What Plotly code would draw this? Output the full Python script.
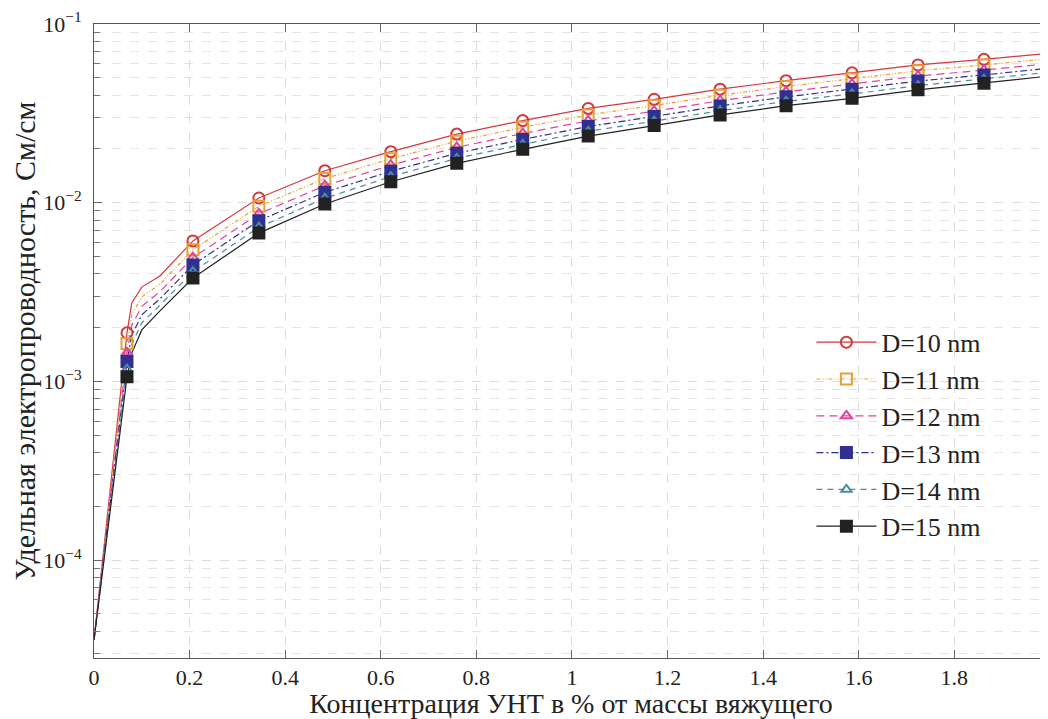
import plotly.graph_objects as go

# concentration (% of binder mass) - line points
conc = [0, 0.069, 0.079, 0.1, 0.138, 0.207, 0.345, 0.483, 0.621, 0.759, 0.897,
        1.034, 1.172, 1.310, 1.448, 1.586, 1.724, 1.862, 2.0]
# indices of conc where markers are drawn
marker_idx = [1, 5, 6, 7, 8, 9, 10, 11, 12, 13, 14, 15, 16, 17, 18]

d10 = [3.57e-5, 1.87e-3, 2.75e-3, 3.37e-3, 3.89e-3, 6.11e-3, 1.062e-2, 1.51e-2, 1.93e-2, 2.42e-2,
       2.88e-2, 3.37e-2, 3.79e-2, 4.32e-2, 4.82e-2, 5.33e-2, 5.90e-2, 6.34e-2, 6.86e-2]
d11 = [3.57e-5, 1.63e-3, 2.36e-3, 2.97e-3, 3.50e-3, 5.46e-3, 9.55e-3, 1.365e-2, 1.76e-2, 2.21e-2,
       2.64e-2, 3.10e-2, 3.50e-2, 3.99e-2, 4.47e-2, 4.93e-2, 5.47e-2, 5.90e-2, 6.40e-2]
d12 = [3.57e-5, 1.445e-3, 2.06e-3, 2.63e-3, 3.18e-3, 4.93e-3, 8.67e-3, 1.245e-2, 1.62e-2, 2.04e-2,
       2.44e-2, 2.87e-2, 3.25e-2, 3.72e-2, 4.17e-2, 4.60e-2, 5.11e-2, 5.52e-2, 6.01e-2]
d13 = [3.57e-5, 1.29e-3, 1.81e-3, 2.36e-3, 2.90e-3, 4.48e-3, 7.93e-3, 1.143e-2, 1.50e-2, 1.89e-2,
       2.26e-2, 2.67e-2, 3.04e-2, 3.48e-2, 3.91e-2, 4.31e-2, 4.79e-2, 5.19e-2, 5.66e-2]
d14 = [3.57e-5, 1.17e-3, 1.61e-3, 2.13e-3, 2.67e-3, 4.11e-3, 7.29e-3, 1.059e-2, 1.40e-2, 1.77e-2,
       2.12e-2, 2.51e-2, 2.86e-2, 3.27e-2, 3.69e-2, 4.06e-2, 4.52e-2, 4.91e-2, 5.38e-2]
d15 = [3.57e-5, 1.06e-3, 1.44e-3, 1.94e-3, 2.48e-3, 3.79e-3, 6.76e-3, 9.84e-3, 1.31e-2, 1.66e-2,
       1.99e-2, 2.36e-2, 2.70e-2, 3.10e-2, 3.49e-2, 3.84e-2, 4.28e-2, 4.66e-2, 5.12e-2]

names = ["D=10 nm", "D=11 nm", "D=12 nm", "D=13 nm", "D=14 nm", "D=15 nm"]
series = [d10, d11, d12, d13, d14, d15]

x_ticks = [0, 0.2, 0.4, 0.6, 0.8, 1, 1.2, 1.4, 1.6, 1.8, 2]
y_ticks = [1e-4, 1e-3, 1e-2, 1e-1]
y_ticktext = ["10<sup>−4</sup>", "10<sup>−3</sup>", "10<sup>−2</sup>", "10<sup>−1</sup>"]

colors = ["#d2383e", "#e8a033", "#e0449e", "#2e3190", "#4f8c9a", "#222222"]
dashes = ["solid", "4px,2px,1px,2px,1px,2px", "8px,5px", "7px,3px,2px,3px", "6px,5px", "solid"]
symbols = ["circle-open", "square-open", "triangle-up-open", "square", "triangle-up-open", "square"]
msizes = [11, 11, 10, 11, 9, 11]

fig = go.Figure()
for name, ys, c, dsh, sym, ms in zip(names, series, colors, dashes, symbols, msizes):
    fig.add_trace(go.Scatter(x=conc, y=ys, mode="lines", line=dict(color=c, width=1.2, dash=dsh),
                             showlegend=False, hoverinfo="skip"))
for name, ys, c, dsh, sym, ms in zip(names, series, colors, dashes, symbols, msizes):
    fig.add_trace(go.Scatter(x=[conc[i] for i in marker_idx], y=[ys[i] for i in marker_idx],
                             mode="markers", showlegend=False,
                             marker=dict(symbol=sym, size=ms, color=c, line=dict(color=c, width=2))))
for name, ys, c, dsh, sym, ms in zip(names, series, colors, dashes, symbols, msizes):
    fig.add_trace(go.Scatter(x=[None], y=[None], mode="lines+markers", name=name,
                             line=dict(color=c, width=1.2, dash=dsh),
                             marker=dict(symbol=sym, size=ms, color=c, line=dict(color=c, width=2))))

minor_vals = []
for e in [1e-5, 1e-4, 1e-3, 1e-2]:
    for k in range(2, 10):
        minor_vals.append(k * e)

font_family = "Liberation Serif"
fig.update_layout(
    width=1040, height=711,
    margin=dict(l=86, r=0, t=16, b=61, autoexpand=False),
    paper_bgcolor="white", plot_bgcolor="white",
    font=dict(family=font_family, size=20, color="#222"),
    legend=dict(x=0.752, y=0.535, xanchor="left", yanchor="top",
                bgcolor="rgba(0,0,0,0)", font=dict(size=26, family=font_family),
                tracegroupgap=0, itemwidth=60),
    xaxis=dict(range=[0, 1.996], tickvals=x_ticks, ticks="inside", ticklen=8, tickcolor="#666",
               showline=True, linecolor="#555", linewidth=1, mirror="ticks", automargin=False,
               showgrid=True, gridcolor="#dcdcdc", griddash="dash", gridwidth=1, zeroline=False,
               title=dict(text="Концентрация УНТ в % от массы вяжущего",
                          font=dict(size=28, family=font_family), standoff=2),
               tickfont=dict(size=22, family=font_family)),
    yaxis=dict(type="log", range=[-4.548, -1], tickvals=y_ticks, ticktext=y_ticktext,
               ticks="inside", ticklen=8, tickcolor="#666", automargin=False,
               ticklabelstandoff=7,
               showline=True, linecolor="#555", linewidth=1, mirror="ticks",
               showgrid=True, gridcolor="#dcdcdc", griddash="dash", gridwidth=1, zeroline=False,
               minor=dict(tickvals=minor_vals, ticks="inside", ticklen=6, tickcolor="#777",
                          showgrid=True, gridcolor="#e4e4e4", griddash="dash", gridwidth=1),
               title=dict(text="Удельная электропроводность, См/см",
                          font=dict(size=30, family=font_family), standoff=0),
               tickfont=dict(size=22, family=font_family)),
)

fig.write_html("out.html")
